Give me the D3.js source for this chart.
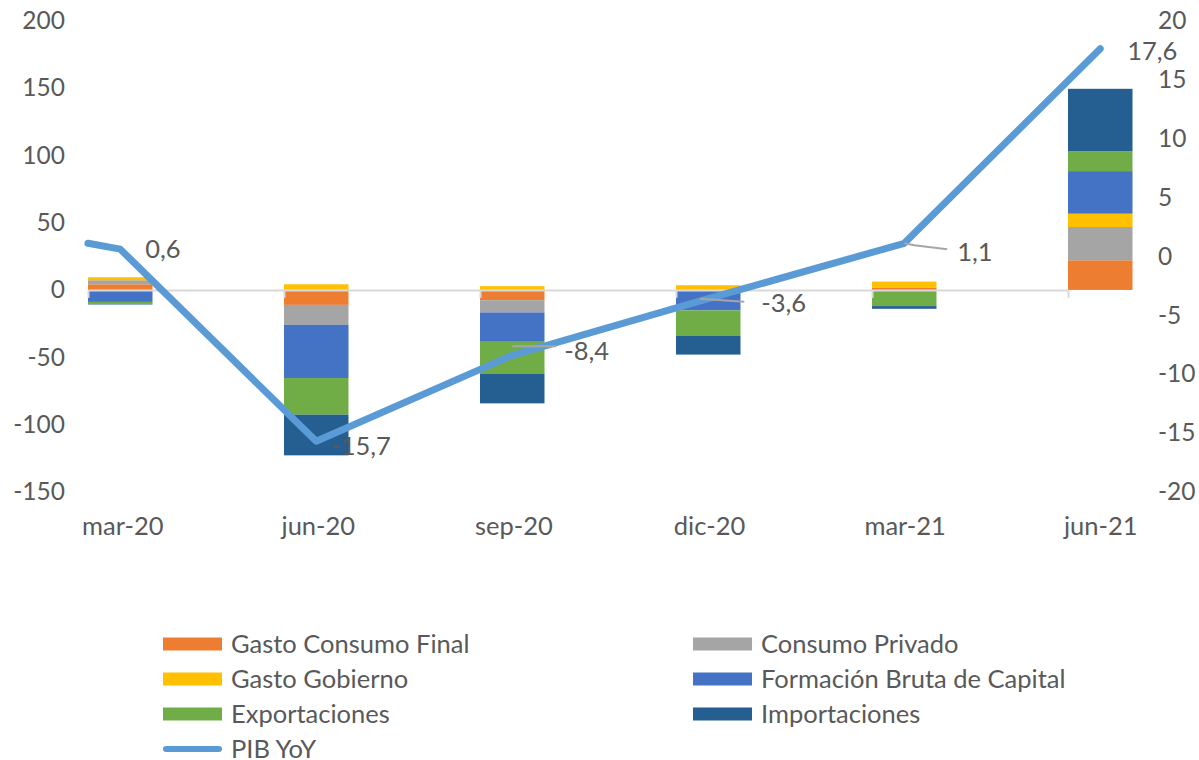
<!DOCTYPE html>
<html>
<head>
<meta charset="utf-8">
<script src="https://cdn.jsdelivr.net/npm/d3@7"></script>
<style>
  body { margin: 0; background: #fff; }
  svg text { font-family: Lato, "Noto Sans", sans-serif; fill: #595959; }
</style>
</head>
<body>
<div id="chart"></div>
<script>
// Datos (contribuciones y PIB YoY)
var categories = ["mar-20", "jun-20", "sep-20", "dic-20", "mar-21", "jun-21"];
var gastoConsumoFinal = [4.2, -11.1, -7.6, 0, 1.6, 22.0];
var consumoPrivado = [3.0, -14.8, -9.1, 0, 0.4, 24.7];
var gastoGobierno = [2.2, 4.2, 2.8, 3.5, 4.2, 9.9];
var formacionBruta = [-8.9, -39.5, -21.8, -15.2, 0, 31.6];
var exportaciones = [-1.3, -27.2, -23.9, -19.0, -12.0, 14.8];
var importaciones = [-0.6, -30.2, -21.8, -13.8, -2.0, 46.3];
var pibYoY = [0.6, -15.7, -8.4, -3.6, 1.1, 17.6];
var pibInicio = 1.1;
var leftTicks = [-150, -100, -50, 0, 50, 100, 150, 200];
var rightTicks = [-20, -15, -10, -5, 0, 5, 10, 15, 20];

var seriesNames = ["Gasto Consumo Final", "Consumo Privado", "Gasto Gobierno",
  "Formación Bruta de Capital", "Exportaciones", "Importaciones"];
var seriesValues = [gastoConsumoFinal, consumoPrivado, gastoGobierno,
  formacionBruta, exportaciones, importaciones];
var colors = ["#ED7D31", "#A5A5A5", "#FFC000", "#4472C4", "#70AD47", "#255E91"];
var lineColor = "#5B9BD5";

var WIDTH = 1199, HEIGHT = 760;
var TICK_FONT = 24.5;
var FONT = 25.5;
var barW = 64.5;

var svg = d3.select("#chart").append("svg")
  .attr("width", WIDTH).attr("height", HEIGHT);

var x = d3.scalePoint().domain(categories).range([88, 1068]);
var yL = d3.scaleLinear().domain([-150, 200]).range([492, 20.5]);
var yR = d3.scaleLinear().domain([-20, 20]).range([492, 20.5]);

// filas para d3.stack
var rows = categories.map(function (c, i) {
  var r = { cat: c };
  seriesNames.forEach(function (n, j) { r[n] = seriesValues[j][i]; });
  return r;
});
var stacked = d3.stack().keys(seriesNames).offset(d3.stackOffsetDiverging)(rows);

// barras apiladas
svg.append("g").selectAll("g")
  .data(stacked)
  .join("g")
  .attr("fill", function (d, i) { return colors[i]; })
  .selectAll("rect")
  .data(function (d) { return d; })
  .join("rect")
  .attr("x", function (d) { return x(d.data.cat); })
  .attr("width", barW)
  .attr("y", function (d) { return yL(Math.max(d[0], d[1])); })
  .attr("height", function (d) { return Math.abs(yL(d[0]) - yL(d[1])); });

// eje de categorias (linea del cero con marcas)
var xAxis = svg.append("g")
  .attr("transform", "translate(0," + yL(0) + ")")
  .call(d3.axisBottom(x).tickSize(8).tickSizeOuter(0).tickFormat(""));
xAxis.selectAll("path, line").attr("stroke", "#D9D9D9").attr("stroke-width", 2);

// etiquetas de categoria, centradas en las barras
var xl = d3.scalePoint().domain(categories).range([88 + barW / 2 + 2, 1068 + barW / 2]);
var xLab = svg.append("g")
  .attr("transform", "translate(0,517)")
  .call(d3.axisBottom(xl).tickSize(0).tickPadding(0));
xLab.select(".domain").remove();
xLab.selectAll("text").style("font-size", FONT + "px").attr("fill", "#595959");

// eje izquierdo
var axL = svg.append("g")
  .attr("transform", "translate(65,0)")
  .call(d3.axisLeft(yL).tickValues(leftTicks).tickSize(0).tickPadding(0)
    .tickFormat(function (d) { return String(d); }));
axL.select(".domain").remove();
axL.selectAll("text").style("font-size", TICK_FONT + "px").attr("fill", "#595959");

// eje derecho
var axR = svg.append("g")
  .attr("transform", "translate(1158,0)")
  .call(d3.axisRight(yR).tickValues(rightTicks).tickSize(0).tickPadding(0)
    .tickFormat(function (d) { return String(d); }));
axR.select(".domain").remove();
axR.selectAll("text").style("font-size", TICK_FONT + "px").attr("fill", "#595959");

// linea PIB YoY
var linePts = [[x(categories[0]), yR(pibInicio)]].concat(
  pibYoY.map(function (v, i) { return [x(categories[i]) + barW / 2, yR(v)]; }));
svg.append("path")
  .attr("d", d3.line()(linePts))
  .attr("fill", "none")
  .attr("stroke", lineColor)
  .attr("stroke-width", 7)
  .attr("stroke-linejoin", "round")
  .attr("stroke-linecap", "round");

// etiquetas de datos (algunas con linea guia)
var labelPos = [
  { dx: 25, dy: 0, leader: null },
  { dx: 15, dy: 5, leader: null },
  { dx: 52, dy: -4, leader: [[0, -9], [44, -9]] },
  { dx: 53, dy: 4, leader: [[-8, 0], [36, 3]] },
  { dx: 53, dy: 9, leader: [[0, 0], [10, 2], [43, 6]] },
  { dx: 27, dy: 2, leader: null }
];
var fmt = function (v) { return v.toFixed(1).replace(".", ","); };
pibYoY.forEach(function (v, i) {
  var px = x(categories[i]) + barW / 2, py = yR(v), p = labelPos[i];
  if (p.leader) {
    svg.append("path")
      .attr("d", d3.line()(p.leader.map(function (q) { return [px + q[0], py + q[1]]; })))
      .attr("fill", "none").attr("stroke", "#A6A6A6").attr("stroke-width", 2);
  }
  svg.append("text")
    .attr("x", px + p.dx).attr("y", py + p.dy)
    .attr("dy", "0.35em")
    .style("font-size", FONT + "px")
    .text(fmt(v));
});

// leyenda
var legendItems = seriesNames.map(function (n, i) { return { name: n, color: colors[i], type: "rect" }; });
legendItems.push({ name: "PIB YoY", color: lineColor, type: "line" });
var legend = svg.append("g");
legendItems.forEach(function (d, i) {
  var col = i < 6 ? i % 2 : 0;
  var row = Math.floor(i / 2);
  var lx = col === 0 ? 163 : 693;
  var ly = 644 + row * 35;
  var g = legend.append("g").attr("transform", "translate(" + lx + "," + ly + ")");
  if (d.type === "rect") {
    g.append("rect").attr("x", 0).attr("y", -6.5).attr("width", 59).attr("height", 13)
      .attr("fill", d.color);
  } else {
    g.append("line").attr("x1", 3).attr("x2", 56).attr("y1", 0).attr("y2", 0)
      .attr("stroke", d.color).attr("stroke-width", 6).attr("stroke-linecap", "round");
  }
  g.append("text").attr("x", 68).attr("y", 0).attr("dy", "0.35em")
    .style("font-size", FONT + "px").text(d.name);
});
</script>
</body>
</html>
